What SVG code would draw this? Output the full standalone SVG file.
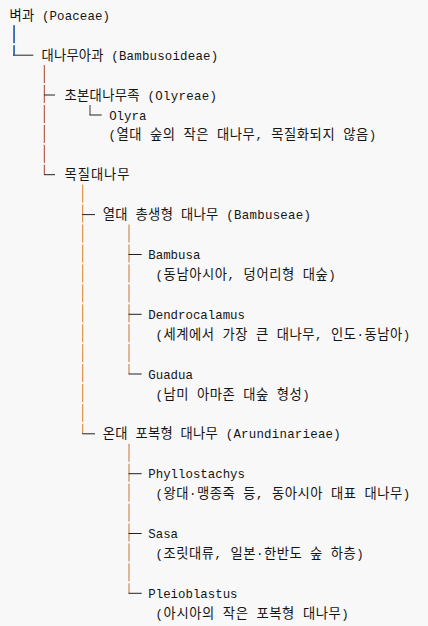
<svg xmlns="http://www.w3.org/2000/svg" width="428" height="626" viewBox="0 0 428 626">
  <style>
    text { font-family: "Liberation Mono", "Noto Sans CJK KR", monospace; font-size: 12.4px; fill: #141414; }
    .k { font-family: "Noto Sans CJK KR", "Liberation Mono", sans-serif; font-size: 13.3px; }
    .h { stroke: #222222; stroke-width: 1; fill: none; }
    .va1 { stroke: #a86a48; stroke-width: 1; fill: none; }
    .va2 { stroke: #3d6fb6; stroke-width: 1; fill: none; }
    .vb { stroke: #a8402e; stroke-width: 1; fill: none; }
    .vo { stroke: #3a3a3a; stroke-width: 1; fill: none; }
    .vc { stroke: #d8822a; stroke-width: 1; fill: none; }
    .vd { stroke: #c2762e; stroke-width: 1; fill: none; }
  </style>
  <rect x="0" y="0" width="428" height="626" fill="#f8f8f8"/>

  <g id="connectors">
    <!-- column A -->
    <path class="va1" d="M13.5 25.2V43.2 M13.5 45.2V55.2"/>
    <path class="va2" d="M14.5 25.2V43.2 M14.5 45.2V55.2"/>
    <path class="h" d="M13 55.2H33.3"/>
    <!-- column B -->
    <path class="vb" d="M44.3 65.1V83.1 M44.3 85V103 M44.3 105V123 M44.3 124.9V142.9 M44.3 144.8V162.8 M44.3 164.7V174.7"/>
    <path class="h" d="M44 95H55 M44 174.7H55"/>
    <!-- Olyra corner -->
    <path class="vo" d="M90 105V115"/>
    <path class="h" d="M89.5 115H101.7"/>
    <!-- column C -->
    <path class="vc" d="M82.7 184.7V202.7 M82.7 204.6V222.6 M82.7 224.5V242.5 M82.7 244.5V262.5 M82.7 264.4V282.4 M82.7 284.3V302.3 M82.7 304.3V322.3 M82.7 324.2V342.2 M82.7 344.1V362.1 M82.7 364V382 M82.7 384V402 M82.7 403.9V421.9 M82.7 423.8V433.8"/>
    <path class="h" d="M82.2 214.6H95 M82.2 433.8H95"/>
    <!-- column D -->
    <path class="vd" d="M129 224.5V242.5 M129 244.5V262.5 M129 264.4V282.4 M129 284.3V302.3 M129 304.3V322.3 M129 324.2V342.2 M129 344.1V362.1 M129 364V374"/>
    <path class="h" d="M128.5 254.5H141.7 M128.5 314.3H141.7 M128.5 374H141.7"/>
    <!-- column E -->
    <path class="vd" d="M129 443.8V461.8 M129 463.7V481.7 M129 483.6V501.6 M129 503.6V521.6 M129 523.5V541.5 M129 543.4V561.4 M129 563.3V581.3 M129 583.3V593.3"/>
    <path class="h" d="M128.5 473.7H141.7 M128.5 533.5H141.7 M128.5 593.3H141.7"/>
  </g>

  <g id="node-poaceae">
    <text x="9.6" y="19.8" textLength="100.4" lengthAdjust="spacing"><tspan class="k">벼과</tspan> (Poaceae)</text>
  </g>
  <g id="node-bambusoideae">
    <text x="41.5" y="59.7" textLength="176.6" lengthAdjust="spacing"><tspan class="k">대나무아과</tspan> (Bambusoideae)</text>
  </g>
  <g id="node-olyreae">
    <text x="64.5" y="99.5" textLength="152.4" lengthAdjust="spacing"><tspan class="k">초본대나무족</tspan> (Olyreae)</text>
  </g>
  <g id="node-olyra">
    <text x="109.2" y="119.5">Olyra</text>
    <text x="108.6" y="139.4" textLength="267.5" lengthAdjust="spacing">(<tspan class="k">열대</tspan> <tspan class="k">숲의</tspan> <tspan class="k">작은</tspan> <tspan class="k">대나무</tspan>, <tspan class="k">목질화되지</tspan> <tspan class="k">않음</tspan>)</text>
  </g>
  <g id="node-woody">
    <text x="64.5" y="179.2" textLength="65" lengthAdjust="spacing"><tspan class="k">목질대나무</tspan></text>
  </g>
  <g id="node-bambuseae">
    <text x="102.8" y="219.1" textLength="208.2" lengthAdjust="spacing"><tspan class="k">열대</tspan> <tspan class="k">총생형</tspan> <tspan class="k">대나무</tspan> (Bambuseae)</text>
  </g>
  <g id="node-bambusa">
    <text x="148.3" y="259">Bambusa</text>
    <text x="155.6" y="278.9" textLength="180.2" lengthAdjust="spacing">(<tspan class="k">동남아시아</tspan>, <tspan class="k">덩어리형</tspan> <tspan class="k">대숲</tspan>)</text>
  </g>
  <g id="node-dendrocalamus">
    <text x="148.3" y="318.8">Dendrocalamus</text>
    <text x="155.6" y="338.7" textLength="254.5" lengthAdjust="spacing">(<tspan class="k">세계에서</tspan> <tspan class="k">가장</tspan> <tspan class="k">큰</tspan> <tspan class="k">대나무</tspan>, <tspan class="k">인도</tspan>·<tspan class="k">동남아</tspan>)</text>
  </g>
  <g id="node-guadua">
    <text x="148.3" y="378.5">Guadua</text>
    <text x="155.6" y="398.5" textLength="154.2" lengthAdjust="spacing">(<tspan class="k">남미</tspan> <tspan class="k">아마존</tspan> <tspan class="k">대숲</tspan> <tspan class="k">형성</tspan>)</text>
  </g>
  <g id="node-arundinarieae">
    <text x="102.8" y="438.3" textLength="237.9" lengthAdjust="spacing"><tspan class="k">온대</tspan> <tspan class="k">포복형</tspan> <tspan class="k">대나무</tspan> (Arundinarieae)</text>
  </g>
  <g id="node-phyllostachys">
    <text x="148.3" y="478.2">Phyllostachys</text>
    <text x="155.6" y="498.1" textLength="254.5" lengthAdjust="spacing">(<tspan class="k">왕대</tspan>·<tspan class="k">맹종죽</tspan> <tspan class="k">등</tspan>, <tspan class="k">동아시아</tspan> <tspan class="k">대표</tspan> <tspan class="k">대나무</tspan>)</text>
  </g>
  <g id="node-sasa">
    <text x="148.3" y="538">Sasa</text>
    <text x="155.6" y="557.9" textLength="208.1" lengthAdjust="spacing">(<tspan class="k">조릿대류</tspan>, <tspan class="k">일본</tspan>·<tspan class="k">한반도</tspan> <tspan class="k">숲</tspan> <tspan class="k">하층</tspan>)</text>
  </g>
  <g id="node-pleioblastus">
    <text x="148.3" y="597.8">Pleioblastus</text>
    <text x="155.6" y="617.7" textLength="193.2" lengthAdjust="spacing">(<tspan class="k">아시아의</tspan> <tspan class="k">작은</tspan> <tspan class="k">포복형</tspan> <tspan class="k">대나무</tspan>)</text>
  </g>
</svg>
